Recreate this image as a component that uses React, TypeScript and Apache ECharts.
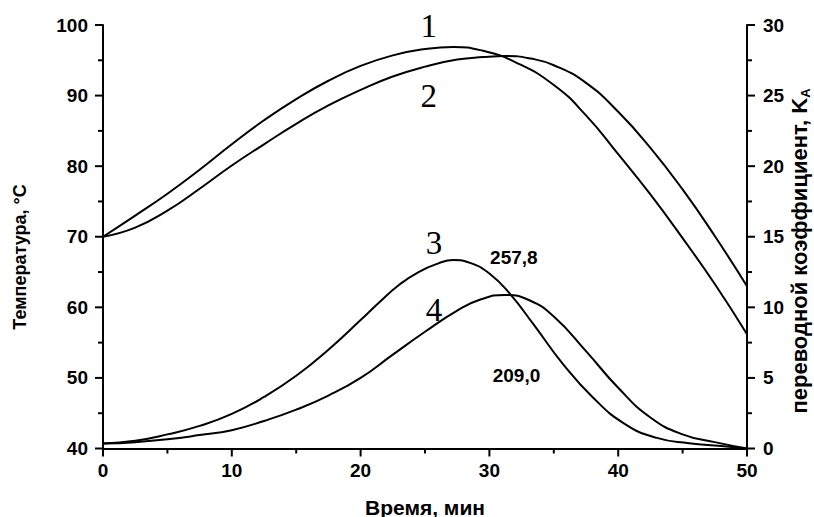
import React, { useEffect, useRef } from "react";
import * as echarts from "echarts";

// Curve 1: temperature, °C (left axis)
const time1 = [0, 2.5, 5, 7.5, 10, 12.5, 15, 17.5, 20, 22.5, 25, 27.2, 29.5, 32, 35, 37.5, 40, 42.5, 45, 47.5, 50];
const temp1 = [70, 73.0, 76.1, 79.5, 83.1, 86.5, 89.5, 92.1, 94.2, 95.7, 96.6, 96.9, 96.35, 94.75, 91.5, 87.2, 81.7, 76.0, 69.8, 63.3, 56.2];

// Curve 2: temperature, °C (left axis)
const time2 = [0, 2.5, 5, 7.5, 10, 12.5, 15, 17.5, 20, 22.5, 25, 27.5, 29.5, 31.3, 33.2, 35, 37.5, 40, 42.5, 45, 47.5, 50];
const temp2 = [70, 71.3, 73.7, 76.8, 80.1, 83.1, 86.0, 88.6, 90.8, 92.7, 94.1, 95.1, 95.45, 95.6, 95.25, 94.3, 91.8, 87.7, 82.6, 76.7, 70.1, 63.0];

// Curve 3: conversion coefficient K_A (right axis)
const time3 = [0, 2.5, 5, 7.5, 10, 12.5, 15, 17.5, 20, 21.5, 23, 24.5, 26, 27.2, 28.5, 30, 31.6, 33.5, 35.7, 38, 40.5, 43, 45.5, 48, 50];
const coef3 = [0.35, 0.55, 1.0, 1.6, 2.45, 3.65, 5.15, 7.0, 9.1, 10.4, 11.6, 12.5, 13.1, 13.35, 13.15, 12.4, 10.95, 8.7, 6.0, 3.65, 1.75, 0.75, 0.38, 0.18, 0];

// Curve 4: conversion coefficient K_A (right axis)
const time4 = [0, 2.5, 5, 7.5, 10, 12.5, 15, 17.5, 20, 22.5, 25, 27.5, 29.3, 31.2, 33.1, 35, 37.5, 40, 42.5, 45, 47.5, 50];
const coef4 = [0.35, 0.45, 0.65, 0.95, 1.3, 1.95, 2.75, 3.75, 5.0, 6.65, 8.27, 9.77, 10.55, 10.88, 10.5, 9.35, 6.9, 4.3, 2.2, 1.0, 0.45, 0];

// Annotations (data coordinates on time / temperature axes)
const curveLabels = ["1", "2", "3", "4"];
const curveLabelX = [25.3, 25.3, 25.7, 25.7];
const curveLabelY = [99.9, 90.0, 69.1, 59.6];
const valueLabels = ["257,8", "209,0"];
const valueLabelX = [31.9, 32.1];
const valueLabelY = [67.1, 50.3];

// Axis ranges and tick values
const xTicks = { min: 0, max: 50, interval: 10 };
const yLeftTicks = { min: 40, max: 100, interval: 10 };
const yRightTicks = { min: 0, max: 30, interval: 5 };
const xTickValues = [0, 5, 10, 15, 20, 25, 30, 35, 40, 45, 50];
const yLeftTickValues = [40, 45, 50, 55, 60, 65, 70, 75, 80, 85, 90, 95, 100];
const yRightTickValues = [0, 2.5, 5, 7.5, 10, 12.5, 15, 17.5, 20, 22.5, 25, 27.5, 30];

const SANS = "'Liberation Sans', Arial, Helvetica, sans-serif";
const SERIF = "'Liberation Serif', 'Times New Roman', serif";

const zip = (xs: number[], ys: number[]) => xs.map((x, i) => [x, ys[i]]);

export default function App() {
  const ref = useRef<HTMLDivElement>(null);
  useEffect(() => {
    if (!ref.current) return;
    const chart = echarts.init(ref.current, undefined, { renderer: "svg" });
    const mkAxisLine = () => ({ show: true, onZero: false, lineStyle: { color: "#000", width: 2 } });
    const axisLabelBase = { color: "#000", fontFamily: SANS, fontWeight: "bold" as const, fontSize: 19 };
    const lineSeries = (name: string, xs: number[], ys: number[], yAxisIndex: number) => ({
      name,
      type: "line",
      yAxisIndex,
      data: zip(xs, ys),
      smooth: 0.5,
      showSymbol: false,
      symbol: "none",
      lineStyle: { color: "#000", width: 2 },
      z: 3,
    });
    const textStyleBase = { fill: "#000", align: "center", verticalAlign: "middle" };
    const axisCommon = {
      axisTick: { show: false },
      minorTick: { show: false },
      splitLine: { show: false },
      minorSplitLine: { show: false },
    };
    chart.setOption({
      animation: false,
      backgroundColor: "#fff",
      grid: { left: 103, right: 67, top: 25, bottom: 68.5 },
      xAxis: {
        type: "value",
        ...xTicks,
        ...axisCommon,
        axisLine: mkAxisLine(),
        axisLabel: { ...axisLabelBase, margin: 12 },
      },
      yAxis: [
        {
          type: "value",
          position: "left",
          ...yLeftTicks,
          ...axisCommon,
          axisLine: mkAxisLine(),
          axisLabel: { ...axisLabelBase, margin: 15 },
        },
        {
          type: "value",
          position: "right",
          ...yRightTicks,
          ...axisCommon,
          axisLine: mkAxisLine(),
          axisLabel: { ...axisLabelBase, margin: 16 },
        },
      ],
      series: [
        lineSeries("1", time1, temp1, 0),
        lineSeries("2", time2, temp2, 0),
        lineSeries("3", time3, coef3, 1),
        lineSeries("4", time4, coef4, 1),
      ],
    });

    const toPx = (x: number, y: number, yAxisIndex = 0) =>
      chart.convertToPixel({ xAxisIndex: 0, yAxisIndex }, [x, y]) as number[];

    // Tick marks drawn as filled rectangles at positions given by the axes' scales
    const ticks: any[] = [];
    const tw = 2;
    xTickValues.forEach((v) => {
      const [px, py] = toPx(v, yLeftTicks.min);
      const len = v % xTicks.interval === 0 ? 7 : 4;
      ticks.push({ type: "rect", silent: true, z: 20, shape: { x: px - tw / 2, y: py, width: tw, height: len + 1 }, style: { fill: "#000" } });
    });
    yLeftTickValues.forEach((v) => {
      const [px, py] = toPx(xTicks.min, v, 0);
      const len = v % yLeftTicks.interval === 0 ? 7 : 4;
      ticks.push({ type: "rect", silent: true, z: 20, shape: { x: px - len - 1, y: py - tw / 2, width: len + 1, height: tw }, style: { fill: "#000" } });
    });
    yRightTickValues.forEach((v) => {
      const [px, py] = toPx(xTicks.max, v, 1);
      const len = v % yRightTicks.interval === 0 ? 7 : 4;
      ticks.push({ type: "rect", silent: true, z: 20, shape: { x: px, y: py - tw / 2, width: len + 1, height: tw }, style: { fill: "#000" } });
    });

    const annotations: any[] = [];
    curveLabels.forEach((t, i) => {
      const [px, py] = toPx(curveLabelX[i], curveLabelY[i]);
      annotations.push({
        type: "text",
        x: px,
        y: py,
        silent: true,
        z: 10,
        style: { ...textStyleBase, text: t, fontFamily: SERIF, fontSize: 33 },
      });
    });
    valueLabels.forEach((t, i) => {
      const [px, py] = toPx(valueLabelX[i], valueLabelY[i]);
      annotations.push({
        type: "text",
        x: px,
        y: py,
        silent: true,
        z: 10,
        style: { ...textStyleBase, text: t, fontFamily: SANS, fontWeight: "bold", fontSize: 19 },
      });
    });

    chart.setOption({
      graphic: [
        ...ticks,
        {
          type: "text",
          x: 20,
          y: 257,
          rotation: Math.PI / 2,
          silent: true,
          style: { ...textStyleBase, text: "Температура, °C", fontFamily: SANS, fontWeight: "bold", fontSize: 18 },
        },
        {
          type: "text",
          x: 799,
          y: 251,
          rotation: Math.PI / 2,
          silent: true,
          style: {
            ...textStyleBase,
            text: "переводной коэффициент, K{sub|A}",
            fontFamily: SANS,
            fontWeight: "bold",
            fontSize: 22,
            rich: {
              sub: { fill: "#000", fontFamily: SANS, fontWeight: "bold", fontSize: 13, padding: [12, 0, 0, 0] },
            },
          },
        },
        {
          type: "text",
          x: 425,
          y: 507,
          silent: true,
          style: { ...textStyleBase, text: "Время, мин", fontFamily: SANS, fontWeight: "bold", fontSize: 21 },
        },
        ...annotations,
      ],
    });
    return () => chart.dispose();
  }, []);
  return (
    <div
      ref={ref}
      style={{ position: "fixed", left: 0, top: 0, width: 814, height: 517, background: "#fff" }}
    />
  );
}
